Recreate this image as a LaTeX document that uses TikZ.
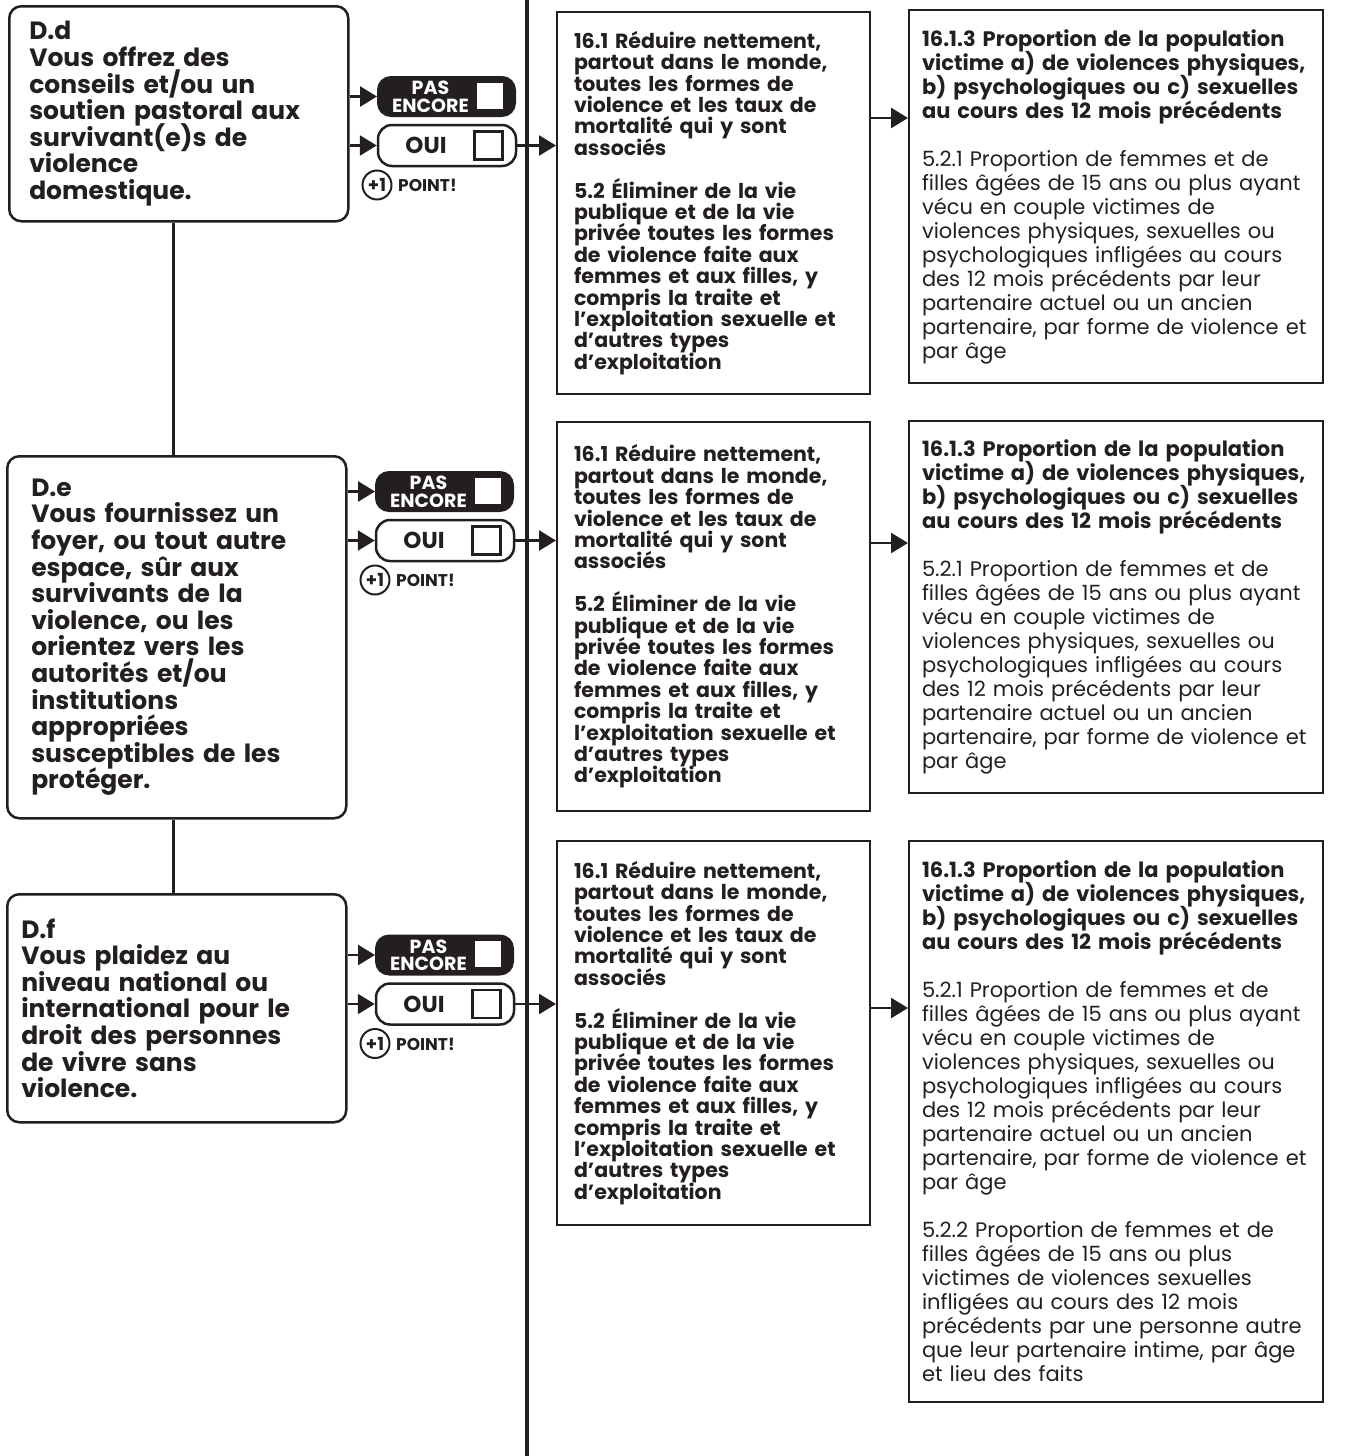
\documentclass[tikz,border=0pt]{standalone}
\usepackage{fontspec}
\setmainfont{Poppins}
\usetikzlibrary{arrows.meta,calc}
\definecolor{ink}{HTML}{231F20}
\newcommand{\tightlines}{\lineskiplimit=-100pt\lineskip=0pt}
\begin{document}
\begin{tikzpicture}[x=1pt,y=-1pt,
  every node/.style={text=ink},
  lbox/.style={draw=ink, line width=2.5pt, rounded corners=12pt, anchor=north west, inner ysep=0pt, align=left,
    font=\fontsize{25}{26.6}\selectfont\bfseries\tightlines},
  mbox/.style={draw=ink, line width=2pt, anchor=north west, inner xsep=17pt, inner ysep=0pt, text width=279pt,
    minimum width=313pt, align=left, font=\fontsize{20.5}{21.4}\selectfont\bfseries\tightlines},
  rbox/.style={draw=ink, line width=2pt, anchor=north west, inner xsep=13pt, inner ysep=0pt, text width=388pt,
    minimum width=414pt, align=left, font=\fontsize{21}{24}\selectfont\tightlines},
  pebtn/.style={fill=ink, draw=ink, line width=2pt, rounded corners=13pt, minimum width=137pt, minimum height=39pt, inner sep=0pt},
  ouibtn/.style={fill=white, draw=ink, line width=2.5pt, rounded corners=14pt, minimum width=138pt, minimum height=41pt, inner sep=0pt},
  petxt/.style={text=white, align=center, inner sep=0pt, font=\fontsize{19}{17.5}\selectfont\bfseries\tightlines},
  ouitxt/.style={inner sep=0pt, font=\fontsize{23}{23}\selectfont\bfseries},
  wsq/.style={fill=white, draw=none, minimum size=26pt, inner sep=0pt},
  osq/.style={fill=white, draw=ink, line width=2.5pt, minimum size=28pt, inner sep=0pt},
  pcirc/.style={circle, draw=ink, line width=2pt, minimum size=29pt, inner sep=0pt, font=\fontsize{18}{18}\selectfont\bfseries},
  ptxt/.style={anchor=west, inner sep=0pt, font=\fontsize{17}{17}\selectfont\bfseries},
  arr/.style={draw=ink, line width=2.5pt, -{Triangle[length=17pt,width=20pt]}},
  conn/.style={draw=ink, line width=2.5pt},
]
\useasboundingbox (0,0) rectangle (1364,1456);

% divider
\coordinate (vt) at (527,0);
\coordinate (vb) at (527,1456);
\draw[draw=ink, line width=4.5pt] (vt) -- (vb);

% left question boxes
\node[lbox, inner xsep=20pt, text width=299pt, minimum width=339pt, minimum height=215pt] (dd) at (8,5)
 {D.d\\Vous offrez des\\conseils et/ou un\\soutien pastoral aux\\survivant(e)s de\\violence\\domestique.};
\node[lbox, inner xsep=24pt, text width=291pt, minimum width=339pt, minimum height=362pt] (de) at (6,455)
 {D.e\\Vous fournissez un\\foyer, ou tout autre\\espace, sûr aux\\survivants de la\\violence, ou les\\orientez vers les\\autorités et/ou\\institutions\\appropriées\\susceptibles de les\\protéger.};
\node[lbox, inner xsep=14pt, text width=311pt, minimum width=339pt, minimum height=228pt] (df) at (6,893)
 {D.f\\Vous plaidez au\\niveau national ou\\international pour le\\droit des personnes\\de vivre sans\\violence.};

\draw[conn] ([xshift=-5.5pt]dd.south) -- ([xshift=-5.5pt]dd.south |- de.north);
\draw[conn] ([xshift=-3.5pt]de.south) -- ([xshift=-3.5pt]de.south |- df.north);

% target boxes
\foreach \n/\y/\h in {m1/11/382, m2/421/389, m3/840/384}{
  \node[mbox, minimum height=\h pt] (\n) at (556,\y)
   {16.1 Réduire nettement,\\partout dans le monde,\\toutes les formes de\\violence et les taux de\\mortalité qui y sont\\associés\\[21.4pt]5.2 Éliminer de la vie\\publique et de la vie\\privée toutes les formes\\de violence faite aux\\femmes et aux filles, y\\compris la traite et\\l’exploitation sexuelle et\\d’autres types\\d’exploitation};
}

% indicator boxes
\foreach \n/\y/\h in {r1/9/373, r2/420/372}{
  \node[rbox, minimum height=\h pt] (\n) at (908,\y)
   {\textbf{16.1.3 Proportion de la population}\\\textbf{victime a) de violences physiques,}\\\textbf{b) psychologiques ou c) sexuelles}\\\textbf{au cours des 12 mois précédents}\\[24pt]5.2.1 Proportion de femmes et de\\filles âgées de 15 ans ou plus ayant\\vécu en couple victimes de\\violences physiques, sexuelles ou\\psychologiques infligées au cours\\des 12 mois précédents par leur\\partenaire actuel ou un ancien\\partenaire, par forme de violence et\\par âge};
}
\node[rbox, minimum height=561pt] (r3) at (908,840)
 {\textbf{16.1.3 Proportion de la population}\\\textbf{victime a) de violences physiques,}\\\textbf{b) psychologiques ou c) sexuelles}\\\textbf{au cours des 12 mois précédents}\\[24pt]5.2.1 Proportion de femmes et de\\filles âgées de 15 ans ou plus ayant\\vécu en couple victimes de\\violences physiques, sexuelles ou\\psychologiques infligées au cours\\des 12 mois précédents par leur\\partenaire actuel ou un ancien\\partenaire, par forme de violence et\\par âge\\[24pt]5.2.2 Proportion de femmes et de\\filles âgées de 15 ans ou plus\\victimes de violences sexuelles\\infligées au cours des 12 mois\\précédents par une personne autre\\que leur partenaire intime, par âge\\et lieu des faits};

% buttons per row
\foreach \i/\q/\px/\py/\ox/\oy in {1/dd/446.5/96.5/447/145.5, 2/de/444.5/491.5/445/540.5, 3/df/444.5/955/445/1004}{
  \node[pebtn] (pe\i) at (\px,\py) {};
  \node[petxt] (pet\i) at ($(pe\i)+(-16,0.5)$) {PAS\\ENCORE};
  \node[wsq] (pes\i) at ($(pe\i)+(43.5,-1)$) {};
  \node[ouibtn] (oui\i) at (\ox,\oy) {};
  \node[ouitxt] (ouit\i) at ($(oui\i)+(-21,0)$) {OUI};
  \node[osq] (ouis\i) at ($(oui\i)+(41.5,0)$) {};
  \node[pcirc] (pc\i) at ($(oui\i)+(-70,39.5)$) {+1};
  \node[ptxt] (pp\i) at ($(oui\i)+(-49,40)$) {POINT!};
  \draw[arr] (pe\i.west -| \q.east) -- (pe\i.west);
  \draw[arr] (oui\i.west -| \q.east) -- (oui\i.west);
  \draw[arr] (oui\i.east) -- (oui\i.east -| m\i.west);
}

% arrows target -> indicator
\coordinate (a1) at (869,118);
\coordinate (a2) at (869,543);
\coordinate (a3) at (869,1008);
\draw[arr] (a1) -- (a1 -| r1.west);
\draw[arr] (a2) -- (a2 -| r2.west);
\draw[arr] (a3) -- (a3 -| r3.west);
\end{tikzpicture}
\end{document}
